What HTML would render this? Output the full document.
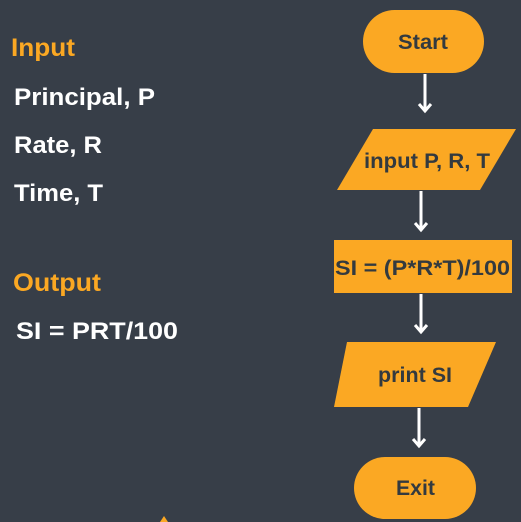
<!DOCTYPE html>
<html><head><style>
body{margin:0;width:521px;height:522px;background:#373e48;overflow:hidden;font-family:"Liberation Sans",sans-serif}
</style></head><body>
<svg width="521" height="522" xmlns="http://www.w3.org/2000/svg" style="position:absolute;left:0;top:0">
<g font-family="Liberation Sans, sans-serif" font-weight="bold">
<text x="11" y="56" font-size="25" fill="#fba823" textLength="64" lengthAdjust="spacingAndGlyphs">Input</text>
<text x="14" y="105" font-size="24" fill="#fff" textLength="141" lengthAdjust="spacingAndGlyphs">Principal, P</text>
<text x="14" y="153" font-size="24" fill="#fff" textLength="88" lengthAdjust="spacingAndGlyphs">Rate, R</text>
<text x="14" y="201" font-size="24" fill="#fff" textLength="89" lengthAdjust="spacingAndGlyphs">Time, T</text>
<text x="13" y="291" font-size="25" fill="#fba823" textLength="88" lengthAdjust="spacingAndGlyphs">Output</text>
<text x="16" y="339" font-size="24" fill="#fff" textLength="162" lengthAdjust="spacingAndGlyphs">SI = PRT/100</text>
</g>
<g fill="#fba823">
<rect x="363" y="10" width="121" height="63" rx="31.5"/>
<polygon points="373,129 516,129 480,190 337,190"/>
<rect x="334" y="240" width="178" height="53"/>
<polygon points="347,342 496,342 468,407 334,407"/>
<rect x="354" y="457" width="122" height="62" rx="31"/>
<polygon points="160,522 164,516 168,522"/>
</g>
<g stroke="#fff" stroke-width="3" fill="none">
<line x1="425" y1="74" x2="425" y2="110"/><path d="M419,104 L425,111 L431,104"/>
<line x1="421" y1="191" x2="421" y2="229"/><path d="M415,223 L421,230 L427,223"/>
<line x1="421" y1="294" x2="421" y2="331"/><path d="M415,325 L421,332 L427,325"/>
<line x1="419" y1="408" x2="419" y2="445"/><path d="M413,439 L419,446 L425,439"/>
</g>
<g font-family="Liberation Sans, sans-serif" font-weight="bold" fill="#333a3f" lengthAdjust="spacingAndGlyphs">
<text x="398" y="49" font-size="21" textLength="50" lengthAdjust="spacingAndGlyphs">Start</text>
<text x="364" y="168" font-size="21" textLength="126" lengthAdjust="spacingAndGlyphs">input P, R, T</text>
<text x="335" y="275" font-size="21" textLength="175" lengthAdjust="spacingAndGlyphs">SI = (P*R*T)/100</text>
<text x="378" y="382" font-size="21" textLength="74" lengthAdjust="spacingAndGlyphs">print SI</text>
<text x="396" y="495" font-size="21" textLength="39" lengthAdjust="spacingAndGlyphs">Exit</text>
</g>
</svg>
</body></html>
